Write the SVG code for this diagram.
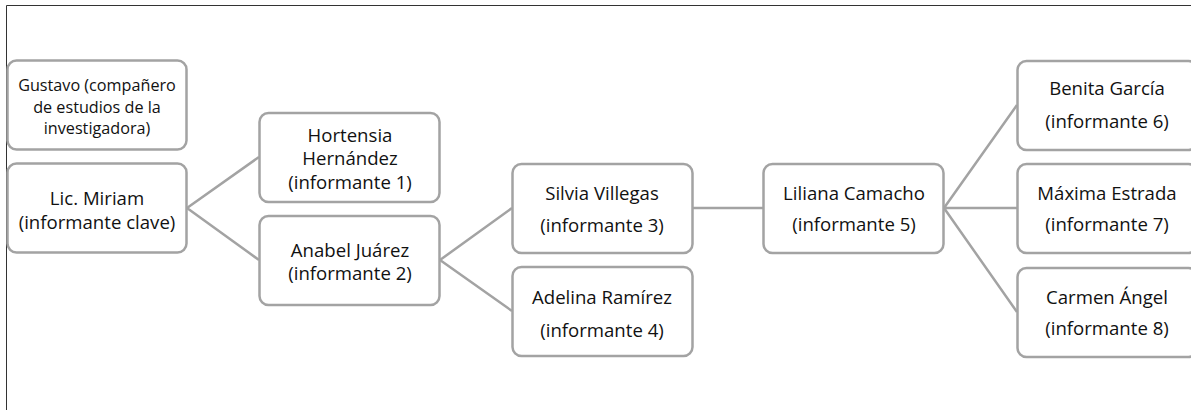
<svg xmlns="http://www.w3.org/2000/svg" width="1191" height="410" viewBox="0 0 1191 410">
<style>
.box{fill:#fff;stroke:#a3a3a3;stroke-width:2.5}
.t{font-family:"Open Sans","Liberation Sans",sans-serif;font-size:18.6px;fill:#111;text-anchor:middle}
.s{font-size:16.2px}
.c{stroke:#a3a3a3;stroke-width:2.5;fill:none}
</style>
<rect width="1191" height="410" fill="#fff"/>
<path d="M6.5 410 V5.5 H1191" fill="none" stroke="#333" stroke-width="1"/>
<g id="connectors">
<path class="c" d="M187 208 L259 157 M187 208 L259 260"/>
<path class="c" d="M440 260 L512 208 M440 260 L512 311"/>
<path class="c" d="M693 208 L763 208"/>
<path class="c" d="M944 208 L1017 105 M944 208 L1017 208 M944 208 L1017 312"/>
</g>
<g id="gustavo"><rect class="box" x="7.5" y="60.5" width="179" height="89" rx="9"/>
<text class="t s" x="97" y="91">Gustavo (compañero</text><text class="t s" x="97" y="113">de estudios de la</text><text class="t s" x="97" y="134">investigadora)</text></g>
<g id="miriam"><rect class="box" x="7.5" y="163.5" width="179" height="89" rx="9"/>
<text class="t" x="97" y="205">Lic. Miriam</text><text class="t" x="97" y="229">(informante clave)</text></g>
<g id="hortensia"><rect class="box" x="259.5" y="113" width="180" height="89" rx="9"/>
<text class="t" x="350" y="142">Hortensia</text><text class="t" x="350" y="165">Hernández</text><text class="t" x="350" y="189">(informante 1)</text></g>
<g id="anabel"><rect class="box" x="259.5" y="216" width="180" height="89" rx="9"/>
<text class="t" x="350" y="257">Anabel Juárez</text><text class="t" x="350" y="280">(informante 2)</text></g>
<g id="silvia"><rect class="box" x="512.5" y="164" width="180" height="89" rx="9"/>
<text class="t" x="602" y="200">Silvia Villegas</text><text class="t" x="602" y="232">(informante 3)</text></g>
<g id="adelina"><rect class="box" x="512.5" y="267" width="180" height="89" rx="9"/>
<text class="t" x="602" y="304">Adelina Ramírez</text><text class="t" x="602" y="337">(informante 4)</text></g>
<g id="liliana"><rect class="box" x="763.5" y="164" width="180" height="89" rx="9"/>
<text class="t" x="854" y="200">Liliana Camacho</text><text class="t" x="854" y="231">(informante 5)</text></g>
<g id="benita"><rect class="box" x="1017.5" y="61" width="180" height="89" rx="9"/>
<text class="t" x="1107" y="95">Benita García</text><text class="t" x="1107" y="128">(informante 6)</text></g>
<g id="maxima"><rect class="box" x="1017.5" y="164" width="180" height="89" rx="9"/>
<text class="t" x="1107" y="200">Máxima Estrada</text><text class="t" x="1107" y="231">(informante 7)</text></g>
<g id="carmen"><rect class="box" x="1017.5" y="268" width="180" height="89" rx="9"/>
<text class="t" x="1107" y="304">Carmen Ángel</text><text class="t" x="1107" y="335">(informante 8)</text></g>
</svg>
